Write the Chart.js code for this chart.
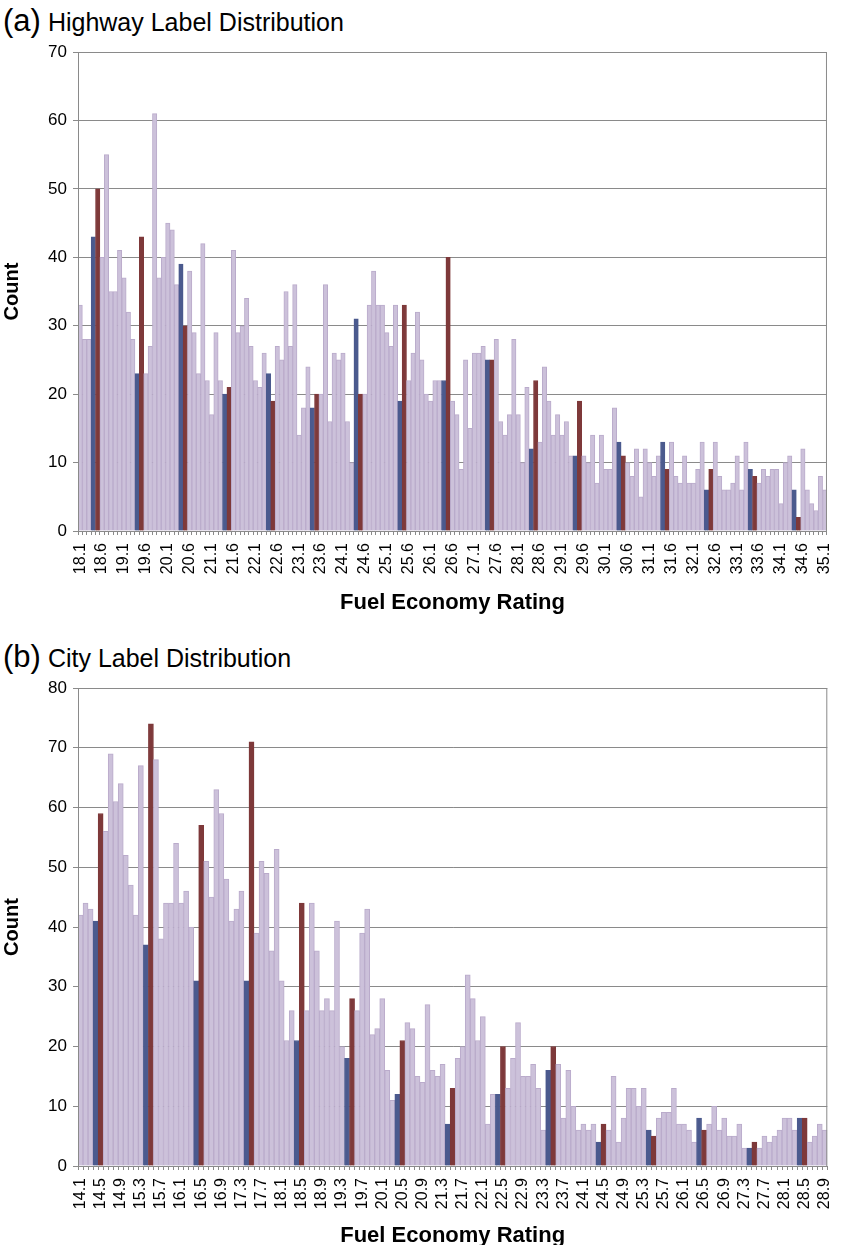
<!DOCTYPE html>
<html>
<head>
  <meta charset="utf-8" />
  <title>Highway / City Label Distribution</title>
  <style>
    body { margin: 0; width: 852px; height: 1245px; position: relative; background: #fff; overflow: hidden;
           font-family: 'Liberation Sans', Arial, Helvetica, sans-serif; }
    .title { position: absolute; left: 3px; font-size: 25px; line-height: 32px; color: #000; white-space: nowrap; }
    .title .tag { font-size: 31px; margin-right: 7px; }
    .box { position: absolute; left: 0; width: 852px; }
  </style>
</head>
<body>
  <div class="title" style="top:5px"><span class="tag">(a)</span>Highway Label Distribution</div>
  <div class="box" style="top:0;height:620px"><canvas id="hwy"></canvas></div>

  <div class="title" style="top:641px"><span class="tag">(b)</span>City Label Distribution</div>
  <div class="box" style="top:630px;height:620px"><canvas id="city"></canvas></div>

  <script src="https://cdn.jsdelivr.net/npm/chart.js@4.4.1/dist/chart.umd.min.js"></script>
  <script>
    // fuel economy ratings, 0.1 steps
    const hwyStart = 18.1, hwyBins = 171;
    const cityStart = 14.1, cityBins = 149;

    // counts, left to right
    const hwyCounts = [
      33, 28, 28, 43, 50, 40, 55, 35, 35, 41,
      37, 32, 28, 23, 43, 23, 27, 61, 37, 40,
      45, 44, 36, 39, 30, 38, 29, 23, 42, 22,
      17, 29, 22, 20, 21, 41, 29, 30, 34, 27,
      22, 21, 26, 23, 19, 27, 25, 35, 27, 36,
      14, 18, 24, 18, 20, 20, 36, 16, 26, 25,
      26, 16, 10, 31, 20, 20, 33, 38, 33, 33,
      29, 27, 33, 19, 33, 22, 26, 32, 25, 20,
      19, 22, 22, 22, 40, 19, 17, 9, 25, 15,
      26, 26, 27, 25, 25, 28, 16, 14, 17, 28,
      17, 10, 21, 12, 22, 13, 24, 19, 14, 17,
      14, 16, 11, 11, 19, 11, 10, 14, 7, 14,
      9, 9, 18, 13, 11, 10, 8, 12, 5, 12,
      10, 8, 11, 13, 9, 13, 8, 7, 11, 7,
      7, 9, 13, 6, 9, 13, 8, 6, 6, 7,
      11, 6, 13, 9, 8, 7, 9, 8, 9, 9,
      4, 10, 11, 6, 2, 12, 6, 4, 3, 8, 6
    ];

    const cityCounts = [
      42, 44, 43, 41, 59, 56, 69, 61, 64, 52,
      47, 42, 67, 37, 74, 68, 38, 44, 44, 54,
      44, 46, 40, 31, 57, 51, 45, 63, 59, 48,
      41, 43, 46, 31, 71, 39, 51, 49, 36, 53,
      31, 21, 26, 21, 44, 26, 44, 36, 26, 28,
      26, 41, 20, 18, 28, 26, 39, 43, 22, 23,
      28, 16, 11, 12, 21, 24, 23, 15, 14, 27,
      16, 15, 17, 7, 13, 18, 20, 32, 28, 21,
      25, 7, 12, 12, 20, 13, 18, 24, 15, 15,
      17, 13, 6, 16, 20, 17, 8, 16, 10, 6,
      7, 6, 7, 4, 7, 6, 15, 4, 8, 13,
      13, 10, 13, 6, 5, 8, 9, 9, 13, 7,
      7, 6, 4, 8, 6, 7, 10, 6, 8, 5,
      5, 7, 3, 3, 4, 3, 5, 4, 5, 6,
      8, 8, 6, 8, 8, 4, 5, 7, 6
    ];

    function makeLabels(start, n) {
      const out = [];
      for (let i = 0; i < n; i++) out.push((start + i * 0.1).toFixed(1));
      return out;
    }
    const hwyLabels = makeLabels(hwyStart, hwyBins);
    const cityLabels = makeLabels(cityStart, cityBins);

    const FONT = "'Liberation Sans', Arial, Helvetica, sans-serif";
    const LIGHT = '#ccc1da', LIGHT_EDGE = '#baabcb';
    const BLUE = '#4b5a8e', RED = '#7e393a';
    const GRID = '#8a8a8a';

    // .4 bins dark blue, .5 bins dark red
    function barColor(label, fallback) {
      if (label.endsWith('.4')) return BLUE;
      if (label.endsWith('.5')) return RED;
      return fallback;
    }

    const frame = {
      id: 'frame',
      afterDraw(chart) {
        const a = chart.chartArea, c = chart.ctx;
        c.save();
        c.strokeStyle = GRID;
        c.lineWidth = 1;
        c.strokeRect(a.left + 0.5, a.top + 0.5, a.right - a.left - 1, a.bottom - a.top);
        c.restore();
      }
    };

    function drawHist(id, labels, counts, yMax, every, xHeight, padTop, titleGap) {
      new Chart(document.getElementById(id), {
        type: 'bar',
        data: {
          labels: labels,
          datasets: [{
            data: counts,
            backgroundColor: labels.map(l => barColor(l, LIGHT)),
            borderColor: labels.map(l => barColor(l, LIGHT_EDGE)),
            borderWidth: 1,
            categoryPercentage: 1,
            barPercentage: 1
          }]
        },
        options: {
          responsive: true,
          maintainAspectRatio: false,
          animation: false,
          layout: { padding: { top: padTop, right: 6, left: 0, bottom: 0 } },
          plugins: { legend: { display: false }, tooltip: { enabled: false } },
          scales: {
            x: {
              afterFit(s) { s.height = xHeight; },
              grid: { drawOnChartArea: false, drawTicks: true, tickLength: 4, color: GRID },
              border: { color: GRID },
              ticks: {
                autoSkip: false, minRotation: 90, maxRotation: 90, padding: 8,
                color: '#000', font: { family: FONT, size: 16 },
                callback: (v, i) => (i % every === 0 ? labels[i] : '')
              },
              title: {
                display: true, text: 'Fuel Economy Rating', color: '#000',
                font: { family: FONT, size: 22, weight: 'bold' }, padding: { top: 0, bottom: titleGap }
              }
            },
            y: {
              min: 0, max: yMax,
              afterFit(s) { s.width = 78; },
              grid: { color: GRID, tickLength: 5 },
              border: { color: GRID },
              ticks: { stepSize: 10, padding: 6, color: '#000', font: { family: FONT, size: 17 } },
              title: {
                display: true, text: 'Count', color: '#000',
                font: { family: FONT, size: 20, weight: 'bold' }, padding: { top: 0, bottom: 6 }
              }
            }
          }
        },
        plugins: [frame]
      });
    }

    drawHist('hwy', hwyLabels, hwyCounts, 70, 5, 89, 52, 4);
    drawHist('city', cityLabels, cityCounts, 80, 4, 84, 58, 1);
  </script>
</body>
</html>
